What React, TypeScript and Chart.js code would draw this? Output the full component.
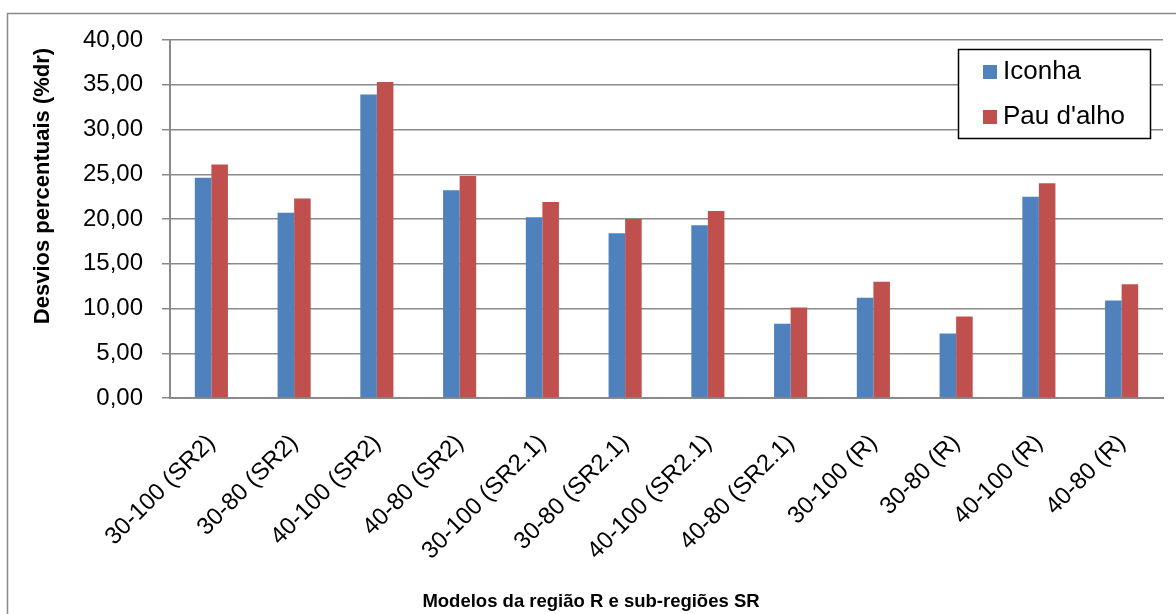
import React, { useEffect, useRef } from "react";
import { Chart, registerables } from "chart.js";

Chart.register(...registerables);

const categories = [
  "30-100 (SR2)",
  "30-80 (SR2)",
  "40-100 (SR2)",
  "40-80 (SR2)",
  "30-100 (SR2.1)",
  "30-80 (SR2.1)",
  "40-100 (SR2.1)",
  "40-80 (SR2.1)",
  "30-100 (R)",
  "30-80 (R)",
  "40-100 (R)",
  "40-80 (R)",
];
const iconha = [24.6, 20.7, 33.9, 23.2, 20.2, 18.4, 19.3, 8.3, 11.2, 7.2, 22.5, 10.9];
const pauDalho = [26.1, 22.3, 35.3, 24.8, 21.9, 20.0, 20.9, 10.1, 13.0, 9.1, 24.0, 12.7];
const seriesNames = ["Iconha", "Pau d'alho"];
const seriesColors = ["#4F81BD", "#C0504D"];
const yMin = 0;
const yMax = 40;
const yStep = 5;
const yTitle = "Desvios percentuais (%dr)";
const xTitle = "Modelos da região R e sub-regiões SR";

const FONT = "'Liberation Sans', Arial, Helvetica, sans-serif";
const GRID = "#8a8a8a";

const decorPlugin = {
  id: "decor",
  beforeDraw(chart: any) {
    const ctx = chart.ctx;
    ctx.save();
    ctx.fillStyle = "#ffffff";
    ctx.fillRect(0, 0, chart.width, chart.height);
    ctx.strokeStyle = GRID;
    ctx.lineWidth = 1.5;
    ctx.beginPath();
    ctx.moveTo(7.5, chart.height + 2);
    ctx.lineTo(7.5, 13.5);
    ctx.lineTo(chart.width + 2, 13.5);
    ctx.stroke();
    ctx.restore();
  },
  afterDraw(chart: any) {
    const ctx = chart.ctx;
    ctx.save();
    ctx.fillStyle = "#000000";
    ctx.font = `bold 22px ${FONT}`;
    ctx.textAlign = "center";
    ctx.textBaseline = "middle";
    ctx.translate(43, 186);
    ctx.rotate(-Math.PI / 2);
    ctx.fillText(yTitle, 0, 0);
    ctx.restore();

    ctx.save();
    ctx.fillStyle = "#000000";
    ctx.font = `bold 18.5px ${FONT}`;
    ctx.textAlign = "center";
    ctx.textBaseline = "middle";
    ctx.fillText(xTitle, 591, 602);
    ctx.restore();

    ctx.save();
    const bx = 958.5, by = 49.5, bw = 192, bh = 89;
    ctx.fillStyle = "#ffffff";
    ctx.fillRect(bx, by, bw, bh);
    ctx.strokeStyle = "#000000";
    ctx.lineWidth = 1.5;
    ctx.strokeRect(bx, by, bw, bh);
    ctx.font = `26px ${FONT}`;
    ctx.textAlign = "left";
    ctx.textBaseline = "middle";
    chart.data.datasets.forEach((ds: any, i: number) => {
      const cy = 72 + i * 45;
      ctx.fillStyle = ds.backgroundColor;
      ctx.fillRect(983, cy - 7, 14, 14);
      ctx.fillStyle = "#000000";
      ctx.fillText(ds.label, 1003, cy);
    });
    ctx.restore();
  },
};

export default function App() {
  const ref = useRef<HTMLCanvasElement | null>(null);

  useEffect(() => {
    if (!ref.current) return;
    const chart = new Chart(ref.current, {
      type: "bar",
      data: {
        labels: categories,
        datasets: [
          {
            label: seriesNames[0],
            data: iconha,
            backgroundColor: seriesColors[0],
            categoryPercentage: 0.4,
            barPercentage: 1.0,
          },
          {
            label: seriesNames[1],
            data: pauDalho,
            backgroundColor: seriesColors[1],
            categoryPercentage: 0.4,
            barPercentage: 1.0,
          },
        ],
      },
      options: {
        animation: false,
        responsive: true,
        maintainAspectRatio: false,
        layout: { padding: { left: 0, top: 40, right: 13, bottom: 0 } },
        plugins: {
          legend: { display: false },
          title: { display: false },
          tooltip: { enabled: false },
        },
        scales: {
          x: {
            grid: { display: false, drawTicks: false },
            border: { display: true, color: GRID, width: 2 },
            ticks: {
              autoSkip: false,
              minRotation: 45,
              maxRotation: 45,
              padding: 31,
              color: "#000000",
              font: { family: FONT, size: 24 },
            },
            afterFit: (s: any) => {
              s.height = 216;
            },
          },
          y: {
            min: yMin,
            max: yMax,
            grid: { color: GRID, lineWidth: 1.5, tickLength: 8, drawTicks: true },
            border: { display: true, color: GRID, width: 2 },
            ticks: {
              stepSize: yStep,
              padding: 19,
              color: "#000000",
              font: { family: FONT, size: 24 },
              callback: (v: any) => Number(v).toFixed(2).replace(".", ","),
            },
            afterFit: (s: any) => {
              s.width = 170;
            },
          },
        },
      },
      plugins: [decorPlugin],
    });
    return () => chart.destroy();
  }, []);

  return (
    <div style={{ position: "fixed", left: 0, top: 0, width: 1176, height: 614, background: "#fff" }}>
      <canvas ref={ref} />
    </div>
  );
}
